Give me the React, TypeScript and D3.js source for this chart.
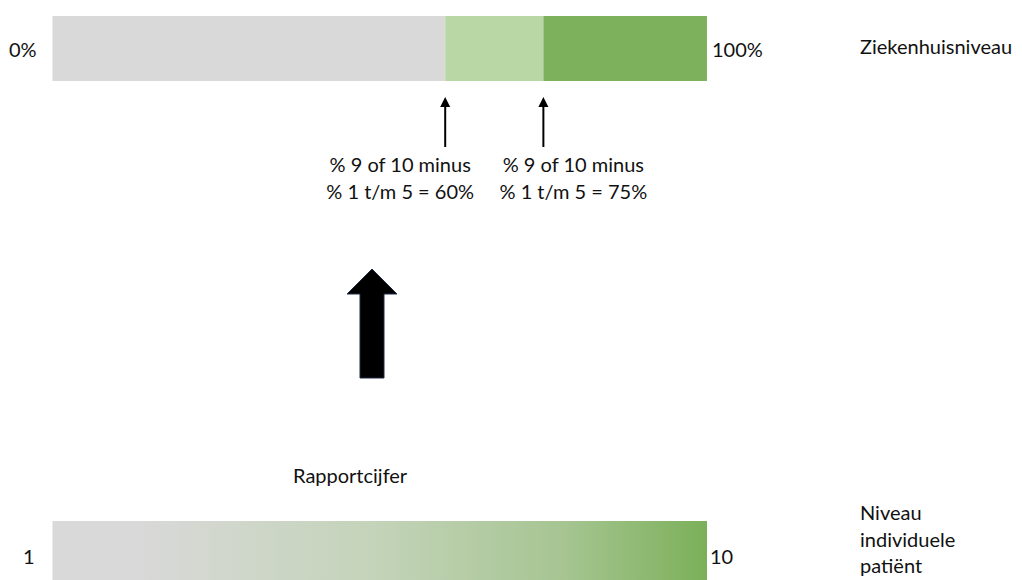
import React from 'react';
import * as d3 from 'd3';

// top bar: hospital level, percentage segments
const segmentStarts = [0, 60, 75];
const segmentEnds = [60, 75, 100];
const segmentColors = ['#d9d9d9', '#b9d6a5', '#7db15c'];
const topTickLabels = ['0%', '100%'];
const topLevelLabel = 'Ziekenhuisniveau';

// threshold markers under the top bar
const markerValues = [60, 75];
const markerLines = [
    ['% 9 of 10 minus', '% 1 t/m 5 = 60%'],
    ['% 9 of 10 minus', '% 1 t/m 5 = 75%'],
];

// bottom bar: individual patient grade 1..10
const gradeDomain = [1, 10];
const bottomTickLabels = ['1', '10'];
const bottomLevelLines = ['Niveau', 'individuele', 'patiënt'];
const bottomTitle = 'Rapportcijfer';

const W = 1022;
const H = 580;
const FONT = 'Lato, "Open Sans", sans-serif';
const FS = 20;

export default function App() {
    const x = d3.scaleLinear().domain([0, 100]).range([52.5, 707]);
    const g = d3.scaleLinear().domain(gradeDomain).range([52.5, 707]);

    const topY = 16, topH = 65;
    const botY = 521, botH = 60;

    // centre of each marker's text block, relative to its arrow
    const markerTextDx = [-45, 30];

    const bigArrow = d3.line()([
        [372, 269], [397, 294], [384, 294], [384, 378], [360, 378], [360, 294], [347, 294],
    ]) + 'Z';

    return (
        <div style={{ position: 'absolute', left: 0, top: 0 }}>
            <svg width={W} height={H} style={{ display: 'block', fontFamily: FONT }}>
                <defs>
                    <linearGradient id="gradeGrad" x1="0" x2="1" y1="0" y2="0">
                        <stop offset="0" stopColor="#d9d9d9" />
                        <stop offset="0.12" stopColor="#d9d9d9" />
                        <stop offset="0.5" stopColor="#c3d3b8" />
                        <stop offset="0.78" stopColor="#a6c592" />
                        <stop offset="1" stopColor="#7bb059" />
                    </linearGradient>
                </defs>
                <rect width={W} height={H} fill="#ffffff" />

                {/* top bar */}
                {segmentStarts.map((s, i) => (
                    <rect key={i} x={x(s)} y={topY} width={x(segmentEnds[i]) - x(s)} height={topH}
                        fill={segmentColors[i]} />
                ))}
                <text x={9} y={57} fontSize={FS} fill="#111">{topTickLabels[0]}</text>
                <text x={712} y={57} fontSize={FS} fill="#111">{topTickLabels[1]}</text>
                <text x={860} y={54} fontSize={FS} fill="#111">{topLevelLabel}</text>

                {/* markers */}
                {markerValues.map((v, i) => (
                    <g key={i}>
                        <line x1={x(v)} x2={x(v)} y1={105} y2={147} stroke="#000" strokeWidth={2} />
                        <path d={`M${x(v)},97 L${x(v) + 5},107 L${x(v) - 5},107 Z`} fill="#000" />
                        {markerLines[i].map((t, j) => (
                            <text key={j} x={x(v) + markerTextDx[i]} y={172 + j * 27} fontSize={FS}
                                textAnchor="middle" fill="#111">{t}</text>
                        ))}
                    </g>
                ))}

                {/* big arrow */}
                <path d={bigArrow} fill="#000" stroke="#1f2a44" strokeWidth={1} />

                <text x={293} y={483} fontSize={FS} fill="#111">{bottomTitle}</text>

                {/* bottom bar */}
                <rect x={g(gradeDomain[0])} y={botY} width={g(gradeDomain[1]) - g(gradeDomain[0])} height={botH}
                    fill="url(#gradeGrad)" />
                <text x={23} y={564} fontSize={FS} fill="#111">{bottomTickLabels[0]}</text>
                <text x={710} y={564} fontSize={FS} fill="#111">{bottomTickLabels[1]}</text>
                {bottomLevelLines.map((t, i) => (
                    <text key={i} x={860} y={520 + i * 26.5} fontSize={FS} fill="#111">{t}</text>
                ))}
            </svg>
        </div>
    );
}
